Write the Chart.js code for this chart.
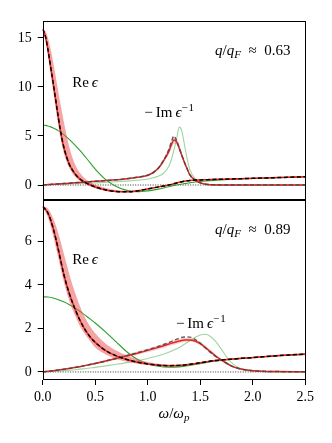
<!DOCTYPE html>
<html>
<head>
<meta charset="utf-8">
<script src="https://cdn.jsdelivr.net/npm/chart.js@4.4.1/dist/chart.umd.min.js"></script>
<style>
  html, body { margin: 0; padding: 0; background: #fff; }
  #wrap { position: relative; width: 332px; height: 443px; }
  #wrap canvas { position: absolute; left: 0; top: 0; }
</style>
</head>
<body>
<div id="wrap">
  <canvas id="bottomChart" width="332" height="443"></canvas>
  <canvas id="topChart" width="332" height="443"></canvas>
</div>
<script>
// ---- dados ----
const xTicks = [0, 0.5, 1.0, 1.5, 2.0, 2.5];
const yTicksTop = [0, 5, 10, 15];
const yTicksBot = [0, 2, 4, 6];
const zeroX = [0, 2.5];
const zeroY = [0, 0];

// painel superior, q/qF ~ 0.63
const wTop = [0, 0.025, 0.05, 0.075, 0.1, 0.125, 0.15, 0.175, 0.2, 0.25, 0.3, 0.35, 0.4, 0.45, 0.5,
  0.6, 0.7, 0.8, 0.9, 1.0, 1.05, 1.1, 1.15, 1.2, 1.225, 1.25, 1.275, 1.3, 1.325, 1.35, 1.375, 1.4,
  1.45, 1.5, 1.55, 1.6, 1.7, 1.8, 2.0, 2.25, 2.5];
const reTop = [15.9, 15.2, 13.8, 12.1, 10.4, 8.6, 6.8, 5.2, 3.9, 2.2, 1.25, 0.65, 0.28, 0.02, -0.2,
  -0.5, -0.66, -0.69, -0.6, -0.4, -0.3, -0.2, -0.1, -0.01, 0.06, 0.13, 0.21, 0.28, 0.34, 0.39, 0.43, 0.46,
  0.5, 0.52, 0.54, 0.56, 0.59, 0.62, 0.68, 0.76, 0.84];
const reTopHi = [15.95, 15.7, 15.0, 13.9, 12.5, 11.0, 9.4, 7.9, 6.5, 4.0, 2.3, 1.3, 0.7, 0.3, 0.02,
  -0.3, -0.5, -0.58, -0.52, -0.35, -0.26, -0.17, -0.07, 0.03, 0.1, 0.17, 0.25, 0.32, 0.38, 0.43, 0.47, 0.5,
  0.54, 0.56, 0.58, 0.6, 0.63, 0.66, 0.72, 0.8, 0.88];
const reTopLo = [15.85, 14.9, 13.1, 11.3, 9.5, 7.7, 6.0, 4.5, 3.3, 1.8, 0.95, 0.45, 0.12, -0.12, -0.32,
  -0.6, -0.73, -0.75, -0.67, -0.46, -0.35, -0.24, -0.14, -0.05, 0.02, 0.09, 0.17, 0.24, 0.3, 0.35, 0.39, 0.42,
  0.46, 0.48, 0.5, 0.52, 0.55, 0.58, 0.64, 0.72, 0.8];
const imTop = [0, 0.02, 0.04, 0.06, 0.07, 0.09, 0.11, 0.13, 0.15, 0.18, 0.22, 0.26, 0.3, 0.34, 0.38,
  0.45, 0.53, 0.63, 0.78, 1.0, 1.25, 1.7, 2.5, 3.6, 4.4, 5.0, 4.5, 3.8, 3.0, 2.3, 1.65, 1.05,
  0.5, 0.22, 0.08, 0.03, 0.01, 0, 0, 0, 0];
const imTopRed = [0, 0.02, 0.04, 0.06, 0.07, 0.09, 0.11, 0.13, 0.15, 0.18, 0.22, 0.26, 0.3, 0.34, 0.38,
  0.45, 0.53, 0.63, 0.78, 1.0, 1.25, 1.7, 2.45, 3.4, 4.1, 4.6, 4.4, 3.75, 3.0, 2.3, 1.65, 1.05,
  0.5, 0.22, 0.08, 0.03, 0.01, 0, 0, 0, 0];
const imTopHi = [0, 0.05, 0.07, 0.09, 0.1, 0.12, 0.14, 0.16, 0.18, 0.21, 0.25, 0.29, 0.33, 0.37, 0.41,
  0.48, 0.56, 0.67, 0.83, 1.06, 1.33, 1.8, 2.65, 3.75, 4.5, 4.95, 4.7, 4.0, 3.2, 2.45, 1.8, 1.15,
  0.56, 0.26, 0.11, 0.05, 0.03, 0.02, 0.02, 0.02, 0.02];
const imTopLo = [0, 0, 0.01, 0.03, 0.04, 0.06, 0.08, 0.1, 0.12, 0.15, 0.19, 0.23, 0.27, 0.31, 0.35,
  0.42, 0.5, 0.59, 0.73, 0.94, 1.17, 1.6, 2.35, 3.1, 3.7, 4.2, 4.1, 3.5, 2.8, 2.15, 1.5, 0.95,
  0.44, 0.18, 0.05, 0.01, 0, 0, 0, 0, 0];
const imTopLight = [0, 0.01, 0.02, 0.03, 0.04, 0.05, 0.06, 0.07, 0.08, 0.1, 0.12, 0.14, 0.17, 0.19, 0.22,
  0.27, 0.33, 0.4, 0.48, 0.62, 0.74, 0.9, 1.2, 1.9, 2.6, 3.6, 4.7, 5.9, 5.5, 4.1, 2.7, 1.6,
  0.65, 0.25, 0.09, 0.03, 0.01, 0, 0, 0, 0];
const reTopGreen = [6.1, 6.08, 6.02, 5.93, 5.82, 5.68, 5.52, 5.34, 5.14, 4.68, 4.15, 3.58, 2.95, 2.28, 1.62,
  0.55, -0.15, -0.55, -0.68, -0.6, -0.52, -0.42, -0.3, -0.17, -0.11, -0.05, 0.0, 0.05, 0.1, 0.14, 0.18, 0.22,
  0.3, 0.36, 0.41, 0.45, 0.52, 0.57, 0.66, 0.75, 0.84];

// painel inferior, q/qF ~ 0.89
const wBot = [0, 0.05, 0.1, 0.15, 0.2, 0.25, 0.3, 0.35, 0.4, 0.45, 0.5,
  0.6, 0.7, 0.8, 0.9, 1.0, 1.1, 1.2, 1.3,
  1.35, 1.4, 1.45, 1.5, 1.55, 1.6, 1.65, 1.7, 1.75, 1.8, 1.85, 1.9,
  2.0, 2.1, 2.25, 2.5];
const reBot = [7.6, 7.3, 6.6, 5.6, 4.5, 3.65, 2.98, 2.42, 1.97, 1.62, 1.36,
  0.98, 0.74, 0.57, 0.45, 0.37, 0.31, 0.29, 0.3,
  0.32, 0.35, 0.38, 0.42, 0.46, 0.5, 0.53, 0.55, 0.57, 0.59, 0.61, 0.63,
  0.66, 0.7, 0.75, 0.82];
const reBotHi = [7.62, 7.5, 7.05, 6.35, 5.45, 4.55, 3.75, 3.08, 2.52, 2.1, 1.78,
  1.3, 0.98, 0.75, 0.58, 0.46, 0.38, 0.34, 0.34,
  0.35, 0.38, 0.41, 0.45, 0.49, 0.53, 0.56, 0.58, 0.6, 0.62, 0.64, 0.66,
  0.69, 0.73, 0.78, 0.85];
const reBotLo = [7.58, 7.1, 6.25, 5.2, 4.15, 3.3, 2.68, 2.15, 1.75, 1.42, 1.12,
  0.8, 0.6, 0.47, 0.38, 0.32, 0.28, 0.26, 0.27,
  0.29, 0.32, 0.35, 0.39, 0.43, 0.47, 0.5, 0.52, 0.54, 0.56, 0.58, 0.6,
  0.63, 0.67, 0.72, 0.79];
const imBot = [0, 0.03, 0.06, 0.09, 0.12, 0.16, 0.2, 0.24, 0.29, 0.34, 0.39,
  0.5, 0.62, 0.75, 0.88, 1.02, 1.17, 1.35, 1.55,
  1.61, 1.6, 1.5, 1.32, 1.1, 0.88, 0.7, 0.54, 0.4, 0.27, 0.18, 0.12,
  0.06, 0.03, 0.015, 0.005];
const imBotRed = [0, 0.03, 0.06, 0.09, 0.12, 0.16, 0.2, 0.24, 0.29, 0.34, 0.39,
  0.5, 0.62, 0.74, 0.86, 0.99, 1.13, 1.28, 1.42,
  1.47, 1.47, 1.42, 1.3, 1.12, 0.92, 0.72, 0.55, 0.4, 0.27, 0.18, 0.12,
  0.06, 0.03, 0.015, 0.005];
const imBotHi = [0, 0.04, 0.07, 0.1, 0.14, 0.18, 0.22, 0.27, 0.32, 0.37, 0.43,
  0.55, 0.68, 0.81, 0.94, 1.08, 1.23, 1.38, 1.52,
  1.56, 1.55, 1.5, 1.38, 1.2, 0.99, 0.78, 0.6, 0.44, 0.3, 0.2, 0.13,
  0.07, 0.035, 0.02, 0.01];
const imBotLo = [0, 0.02, 0.05, 0.08, 0.1, 0.14, 0.18, 0.21, 0.26, 0.31, 0.35,
  0.45, 0.56, 0.67, 0.78, 0.9, 1.03, 1.18, 1.32,
  1.38, 1.39, 1.34, 1.22, 1.04, 0.85, 0.66, 0.5, 0.36, 0.24, 0.16, 0.11,
  0.05, 0.025, 0.01, 0];
const imBotLight = [0, 0.01, 0.03, 0.04, 0.06, 0.08, 0.1, 0.13, 0.15, 0.18, 0.21,
  0.28, 0.35, 0.43, 0.52, 0.62, 0.74, 0.9, 1.12,
  1.27, 1.43, 1.58, 1.7, 1.73, 1.62, 1.38, 1.05, 0.7, 0.42, 0.24, 0.13,
  0.04, 0.01, 0, 0];
const reBotGreen = [3.45, 3.44, 3.4, 3.32, 3.22, 3.1, 2.95, 2.8, 2.62, 2.44, 2.25,
  1.83, 1.38, 0.93, 0.58, 0.37, 0.26, 0.22, 0.23,
  0.26, 0.3, 0.34, 0.38, 0.43, 0.47, 0.5, 0.53, 0.56, 0.58, 0.6, 0.62,
  0.66, 0.7, 0.75, 0.8];

// ---- estilo ----
const FONT = '"Liberation Serif", "DejaVu Serif", serif';
const RED = 'rgb(236, 32, 32)';
const BAND = 'rgba(236, 90, 90, 0.55)';
const BAND_IM = 'rgba(236, 90, 90, 0.28)';
const GREEN = '#2ca02c';
const GREEN_LIGHT = 'rgba(44, 160, 44, 0.45)';

const pts = (xs, ys) => xs.map((x, i) => ({ x, y: ys[i] }));

function line(data, color, width, dash) {
  return {
    data, borderColor: color, borderWidth: width, borderDash: dash || [],
    pointRadius: 0, fill: false, cubicInterpolationMode: 'monotone'
  };
}

// faixa: limite superior preenchido até o próximo dataset (limite inferior)
function band(xs, hi, lo, color) {
  return [
    { data: pts(xs, hi), borderWidth: 0, pointRadius: 0, backgroundColor: color, fill: '+1', cubicInterpolationMode: 'monotone' },
    { data: pts(xs, lo), borderWidth: 0, pointRadius: 0, fill: false, cubicInterpolationMode: 'monotone' }
  ];
}

function fontFor(style, size) {
  const small = style === 'sub' || style === 'sup';
  const s = small ? Math.round(size * 0.7) : size;
  const it = (style === 'it' || style === 'sub') ? 'italic ' : '';
  return it + s + 'px ' + FONT;
}

// escreve texto "matemático" centrado em cx, com linha de base em by
function drawMath(ctx, parts, cx, by, size) {
  ctx.save();
  ctx.fillStyle = '#000';
  ctx.textBaseline = 'alphabetic';
  ctx.textAlign = 'left';
  let total = 0;
  const widths = parts.map(([t, st]) => {
    ctx.font = fontFor(st, size);
    const w = ctx.measureText(t).width;
    total += w;
    return w;
  });
  let x = cx - total / 2;
  parts.forEach(([t, st], i) => {
    ctx.font = fontFor(st, size);
    let y = by;
    if (st === 'sub') y += size * 0.22;
    if (st === 'sup') y -= size * 0.42;
    ctx.fillText(t, x, y);
    x += widths[i];
  });
  ctx.restore();
}

const framePlugin = {
  id: 'frame',
  afterDraw(chart) {
    const { left, top, right, bottom } = chart.chartArea;
    const ctx = chart.ctx;
    ctx.save();
    ctx.strokeStyle = '#000';
    ctx.lineWidth = 1;
    ctx.strokeRect(Math.round(left) + 0.5, Math.round(top) + 0.5, Math.round(right - left) - 1, Math.round(bottom - top) - 1);
    ctx.restore();
  }
};

function labelsPlugin(labels, extra) {
  return {
    id: 'labels',
    afterDraw(chart) {
      const sx = chart.scales.x, sy = chart.scales.y;
      labels.forEach(l => {
        drawMath(chart.ctx, l.parts, sx.getPixelForValue(l.x), sy.getPixelForValue(l.y), l.size);
      });
      if (extra) extra(chart);
    }
  };
}

const reLabel = [['Re', 'rm'], ['\u2009', 'rm'], ['\u03F5', 'it']];
const imLabel = [['\u2212\u2009', 'rm'], ['Im', 'rm'], ['\u2009', 'rm'], ['\u03F5', 'it'], ['\u2212\u200A1', 'sup']];
const qLabel = v => [['q', 'it'], ['/', 'rm'], ['q', 'it'], ['F', 'sub'], ['  \u2248  ', 'rm'], [v, 'rm']];

function makeChart(id, cfg) {
  const showX = cfg.showX;
  return new Chart(document.getElementById(id), {
    type: 'line',
    data: {
      datasets: [
        line(pts(cfg.w, cfg.re), '#000', 1.5, [4, 2.5]),
        line(pts(cfg.w, cfg.im), 'rgba(70,70,70,0.85)', 1.5, [4, 2.5]),
        line(pts(cfg.w, cfg.re), RED, 1.5),
        line(pts(cfg.w, cfg.imRed), RED, 1.5),
        ...band(cfg.w, cfg.imHi, cfg.imLo, BAND_IM),
        ...band(cfg.w, cfg.reHi, cfg.reLo, BAND),
        line(pts(cfg.w, cfg.reGreen), GREEN, 1.1),
        line(pts(cfg.w, cfg.imLight), GREEN_LIGHT, 1.1),
        line(pts(zeroX, zeroY), '#000', 0.8, [1, 1.5])
      ]
    },
    options: {
      responsive: false,
      animation: false,
      devicePixelRatio: 1,
      layout: { padding: cfg.padding },
      plugins: { legend: { display: false }, tooltip: { enabled: false } },
      scales: {
        x: {
          type: 'linear', min: 0, max: 2.5, display: showX,
          afterBuildTicks: s => { s.ticks = xTicks.map(v => ({ value: v })); },
          afterFit: s => { if (showX) s.height = 63; },
          border: { display: false },
          grid: { drawOnChartArea: false, drawTicks: true, tickLength: 5, color: '#000' },
          ticks: { color: '#000', padding: 4, maxRotation: 0, font: { family: FONT, size: 14 }, callback: v => v.toFixed(1) }
        },
        y: {
          type: 'linear', min: cfg.ymin, max: cfg.ymax,
          afterBuildTicks: s => { s.ticks = cfg.yTicks.map(v => ({ value: v })); },
          afterFit: s => { s.width = 42.7; },
          border: { display: false },
          grid: { drawOnChartArea: false, drawTicks: true, tickLength: 5, color: '#000' },
          ticks: { color: '#000', padding: 6, font: { family: FONT, size: 14 } }
        }
      }
    },
    plugins: [framePlugin, labelsPlugin(cfg.labels, cfg.extra)]
  });
}

makeChart('bottomChart', {
  w: wBot, re: reBot, reHi: reBotHi, reLo: reBotLo, im: imBot, imRed: imBotRed,
  imHi: imBotHi, imLo: imBotLo, imLight: imBotLight, reGreen: reBotGreen,
  ymin: -0.37, ymax: 7.9, yTicks: yTicksBot, showX: true,
  padding: { left: 0, right: 26.7, top: 200, bottom: 0 },
  labels: [
    { x: 0.403, y: 4.95, parts: reLabel, size: 15 },
    { x: 1.505, y: 2.0, parts: imLabel, size: 15 },
    { x: 2.0, y: 6.33, parts: qLabel('0.89'), size: 15 }
  ],
  extra: chart => {
    // título do eixo x
    const a = chart.chartArea;
    drawMath(chart.ctx, [['\u03C9', 'it'], ['/', 'rm'], ['\u03C9', 'it'], ['p', 'sub']], (a.left + a.right) / 2, 418, 15);
  }
});

makeChart('topChart', {
  w: wTop, re: reTop, reHi: reTopHi, reLo: reTopLo, im: imTop, imRed: imTopRed,
  imHi: imTopHi, imLo: imTopLo, imLight: imTopLight, reGreen: reTopGreen,
  ymin: -1.53, ymax: 16.73, yTicks: yTicksTop, showX: false,
  padding: { left: 0, right: 26.7, top: 21, bottom: 243 },
  labels: [
    { x: 0.403, y: 10.0, parts: reLabel, size: 15 },
    { x: 1.204, y: 6.9, parts: imLabel, size: 15 },
    { x: 2.0, y: 13.27, parts: qLabel('0.63'), size: 15 }
  ]
});
</script>
</body>
</html>
